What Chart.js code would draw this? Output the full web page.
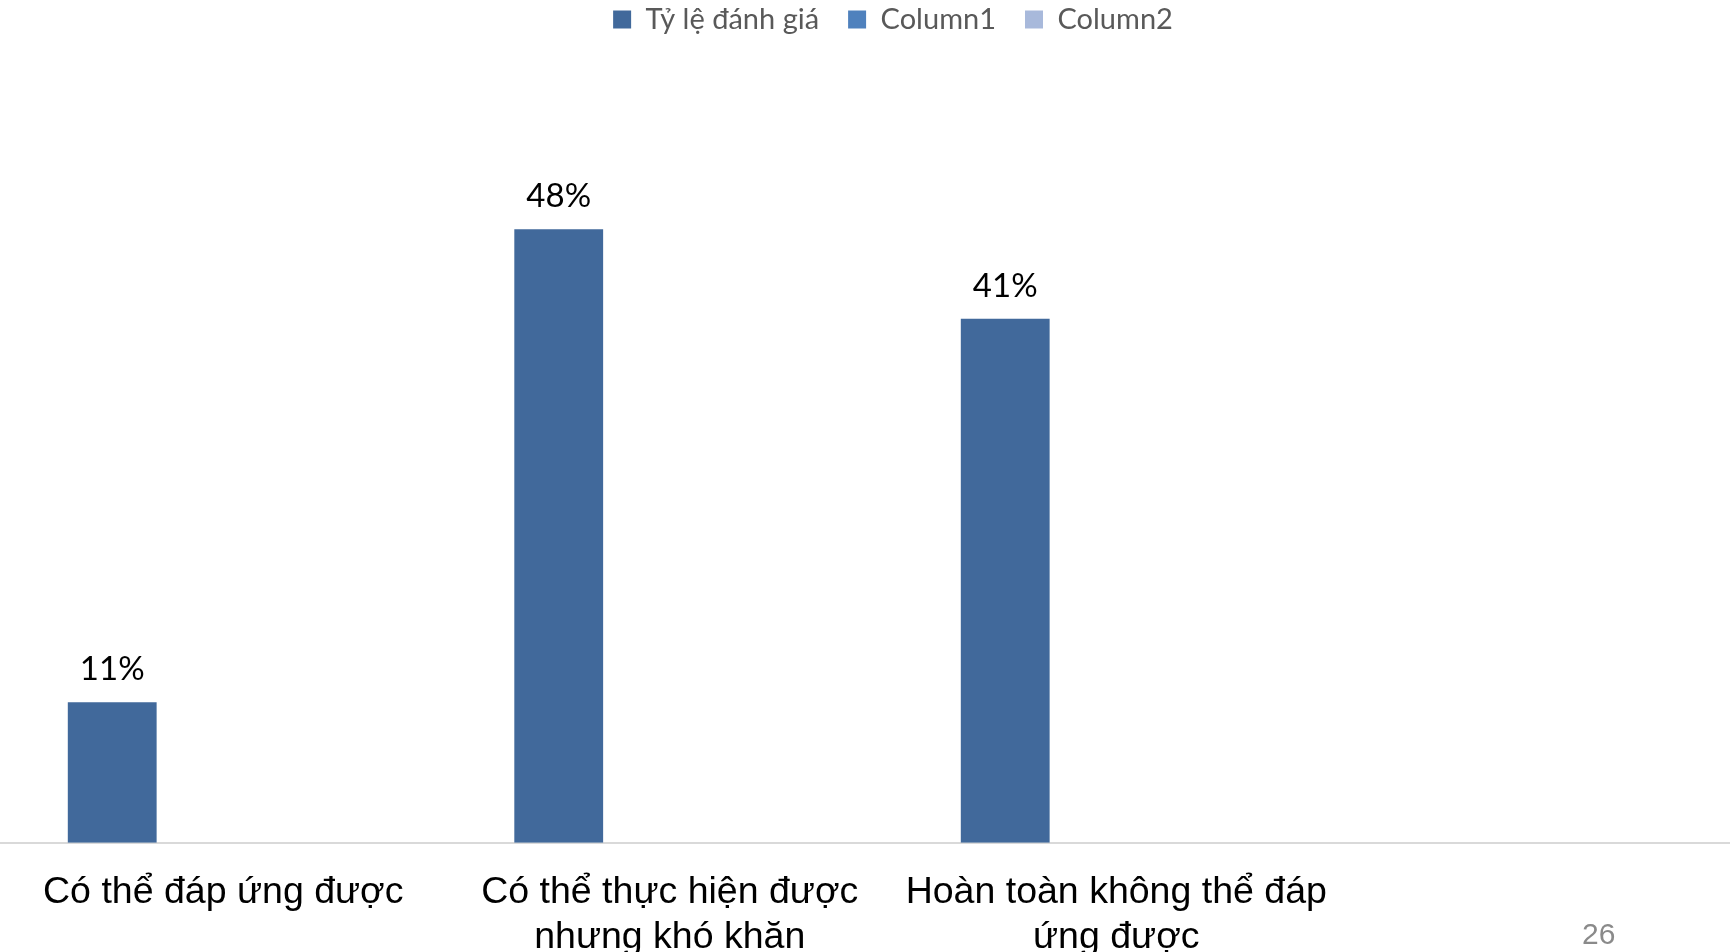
<!DOCTYPE html>
<html>
<head>
<meta charset="utf-8">
<script src="https://cdn.jsdelivr.net/npm/chart.js@4"></script>
<style>
  html, body { margin: 0; padding: 0; background: #fff; overflow: hidden; }
  #wrap { position: absolute; left: 0; top: 0; width: 1786px; height: 952px; }
  #page { position: absolute; left: 1582px; top: 917px; font: 30px "Liberation Sans", Arial, sans-serif; color: #8a8a8a; }
</style>
</head>
<body>
<div id="wrap"><canvas id="chart"></canvas></div>
<div id="page">26</div>
<script>
// ── DATA ──
const categories = [
  'Có thể đáp ứng được',
  ['Có thể thực hiện được', 'nhưng khó khăn'],
  ['Hoàn toàn không thể đáp', 'ứng được'],
  ''
];
const seriesNames = ['Tỷ lệ đánh giá', 'Column1', 'Column2'];
const ratingValues = [11, 48, 41, null];
const column1Values = [null, null, null, null];
const column2Values = [null, null, null, null];
const seriesColors = ['#41699b', '#4f81bd', '#a8b9db'];

// value labels above the bars
const valueLabels = {
  id: 'valueLabels',
  afterDatasetsDraw(chart) {
    const ctx = chart.ctx;
    ctx.save();
    ctx.font = '33px Lato';
    ctx.fillStyle = '#000';
    ctx.textAlign = 'center';
    ctx.textBaseline = 'alphabetic';
    chart.data.datasets.forEach((ds, i) => {
      chart.getDatasetMeta(i).data.forEach((bar, j) => {
        const v = ds.data[j];
        if (v == null) return;
        ctx.fillText(v + '%', bar.x, bar.y - 22);
      });
    });
    ctx.restore();
  }
};

new Chart(document.getElementById('chart'), {
  type: 'bar',
  data: {
    labels: categories,
    datasets: [
      { label: seriesNames[0], data: ratingValues,  backgroundColor: seriesColors[0] },
      { label: seriesNames[1], data: column1Values, backgroundColor: seriesColors[1] },
      { label: seriesNames[2], data: column2Values, backgroundColor: seriesColors[2] }
    ]
  },
  options: {
    responsive: true, maintainAspectRatio: false, animation: false,
    categoryPercentage: 0.746, barPercentage: 0.8,
    layout: { padding: { top: -24, left: 0, right: 0, bottom: -28 } },
    plugins: {
      legend: {
        position: 'top',
        labels: {
          boxWidth: 18, boxHeight: 18, padding: 29,
          color: '#595959', font: { family: 'Lato', size: 29 }
        }
      },
      tooltip: { enabled: false }
    },
    scales: {
      x: {
        grid: { display: false },
        border: { display: true, color: '#d9d9d9', width: 2 },
        ticks: {
          color: '#000', padding: 20, maxRotation: 0, autoSkip: false,
          font: { family: 'Liberation Sans', size: 37.5, lineHeight: 1.19 }
        }
      },
      y: { display: false, min: 0, max: 62.5 }
    }
  },
  plugins: [valueLabels]
});
</script>
</body>
</html>
